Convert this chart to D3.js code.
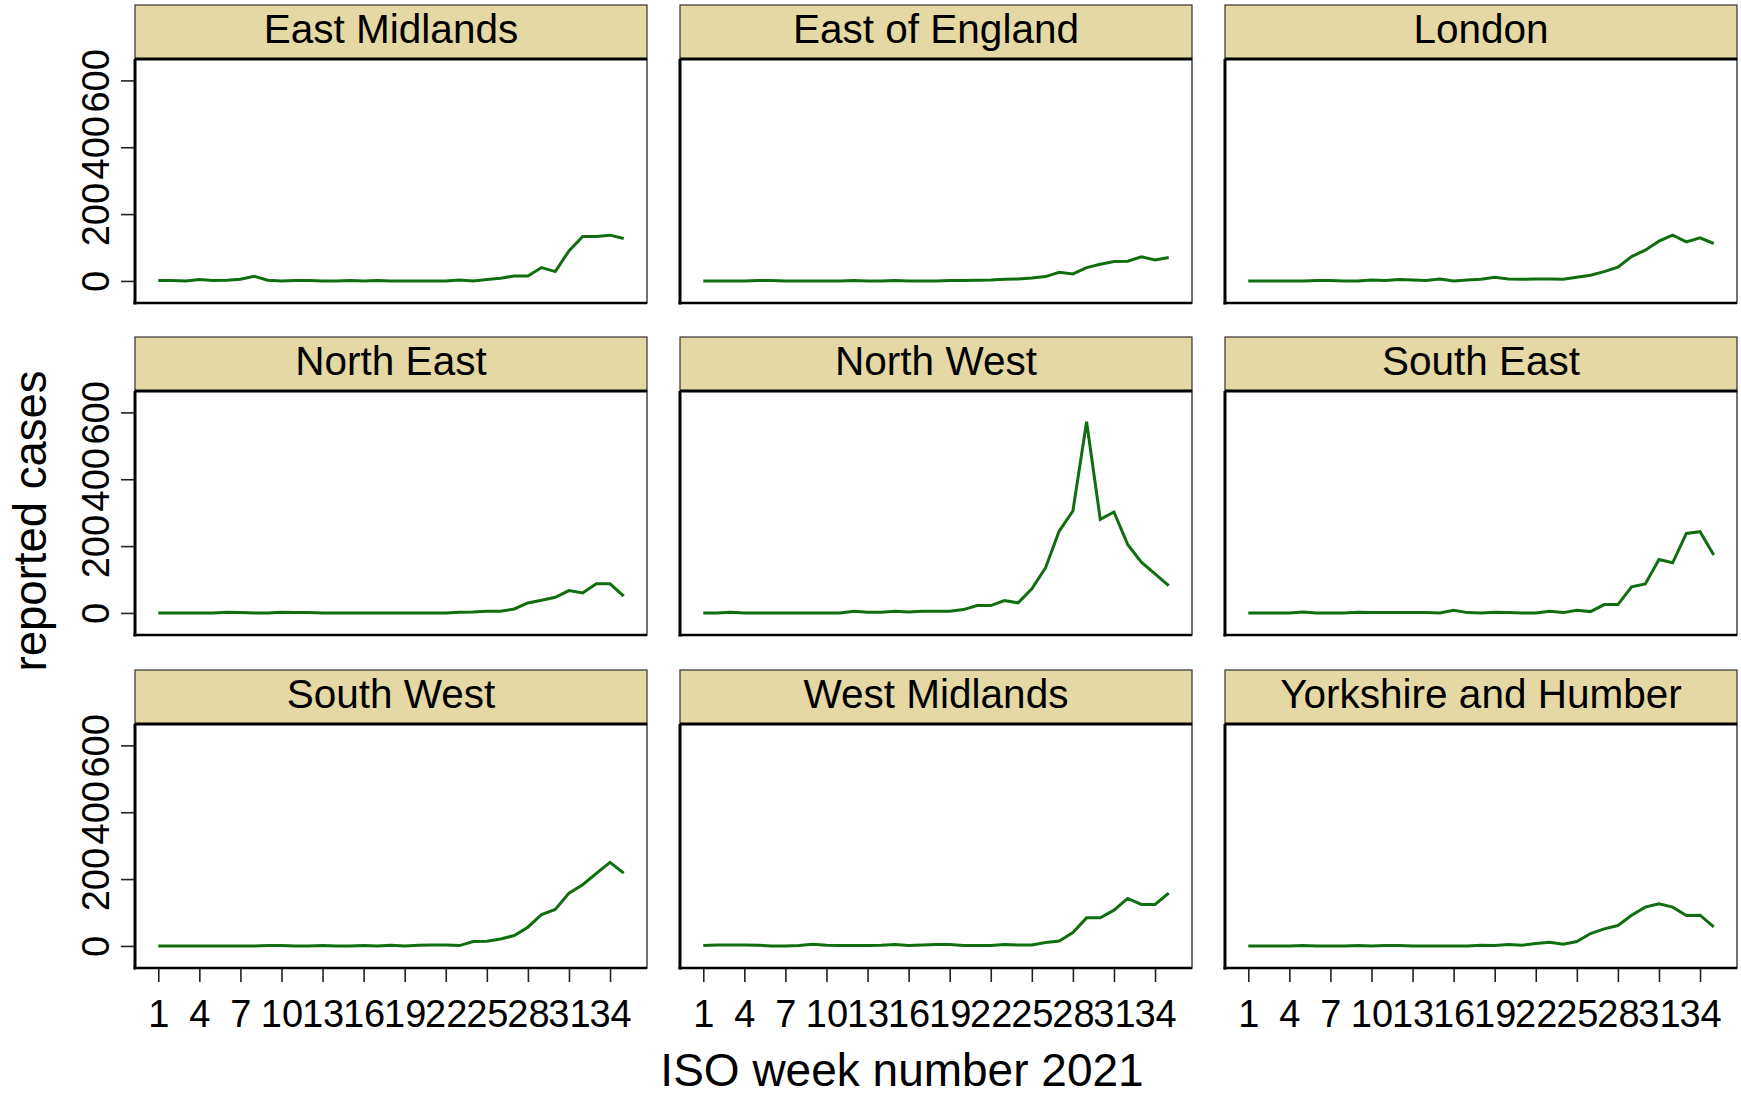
<!DOCTYPE html>
<html>
<head>
<meta charset="utf-8">
<script src="https://cdn.jsdelivr.net/npm/d3@7"></script>
<style>
  html, body { margin: 0; padding: 0; background: #fff; }
  svg { display: block; }
  text { font-family: "Liberation Sans", Arial, sans-serif; fill: #000; }
</style>
</head>
<body>
<svg id="chart" width="1741" height="1095"></svg>
<script>
// ---- data ----
const weeks = d3.range(1, 36);
const regions = ["East Midlands", "East of England", "London",
                 "North East", "North West", "South East",
                 "South West", "West Midlands", "Yorkshire and Humber"];
const eastMidlands   = [1,1,0,4,1,2,5,14,2,0,1,1,0,0,1,0,1,0,0,0,0,0,3,0,4,8,15,15,40,28,90,133,133,137,127];
const eastOfEngland  = [0,0,0,0,1,1,0,0,0,0,0,1,0,0,1,0,0,0,1,1,2,3,5,6,9,13,26,21,40,50,58,59,72,63,70];
const london         = [0,0,0,0,0,1,1,0,0,3,1,4,3,1,6,0,3,5,11,6,5,6,6,5,11,17,28,41,73,92,119,137,117,129,112];
const northEast      = [0,0,0,0,0,2,1,0,0,2,1,1,0,0,0,0,0,0,0,0,0,0,2,3,5,5,12,30,38,47,67,60,87,87,50];
const northWest      = [0,0,2,0,0,0,0,0,0,0,0,5,2,2,5,3,5,5,5,10,22,22,37,30,72,135,245,305,572,280,302,205,152,117,82];
const southEast      = [0,0,0,0,3,0,0,0,2,1,1,1,1,1,0,8,1,0,2,1,0,0,5,1,8,4,25,25,78,87,160,150,238,243,173];
const southWest      = [0,0,0,0,0,0,0,0,1,1,0,0,1,0,0,1,0,2,0,2,3,3,1,13,14,21,31,56,94,109,158,183,217,250,218];
const westMidlands   = [1,3,3,3,2,0,0,1,5,2,1,1,1,2,4,1,3,4,4,1,1,1,4,3,3,10,15,40,84,84,107,142,124,124,158];
const yorkshire      = [0,0,0,0,1,0,0,0,1,0,1,1,0,0,0,0,0,2,1,4,2,7,11,5,13,37,51,61,92,116,126,116,91,92,57];
const seriesValues = [eastMidlands, eastOfEngland, london, northEast, northWest,
                      southEast, southWest, westMidlands, yorkshire];
const xTickValues = [1,4,7,10,13,16,19,22,25,28,31,34];
const yTickValues = [0,200,400,600];
const xTitle = "ISO week number 2021";
const yTitle = "reported cases";

// ---- layout ----
const colLeft = [135, 680, 1225];
const rowTop = [59, 391, 724];
const pw = 512, ph = 244, stripH = 54;
const green = "#106E10";
const stripFill = "#E4D8A4";

const svg = d3.select("#chart");

const x = d3.scaleLinear().domain([-0.7, 36.7]).range([0, pw]);
const y = d3.scaleLinear().domain([-66, 664]).range([ph, 0]);

const line = d3.line().x((d, i) => x(weeks[i])).y(d => y(d));

regions.forEach((name, k) => {
  const r = Math.floor(k / 3), c = k % 3;
  const g = svg.append("g").attr("transform", `translate(${colLeft[c]},${rowTop[r]})`);

  // strip
  g.append("rect").attr("x", 0).attr("y", -stripH).attr("width", pw).attr("height", stripH)
    .attr("fill", stripFill).attr("stroke", "#333").attr("stroke-width", 1.2);
  g.append("text").attr("x", pw / 2).attr("y", -stripH + 38)
    .attr("text-anchor", "middle").attr("font-size", 40.5).text(name);

  // plot region
  g.append("rect").attr("x", 0).attr("y", 0).attr("width", pw).attr("height", ph)
    .attr("fill", "#fff").attr("stroke", "#444").attr("stroke-width", 1.5);

  // line
  g.append("path").datum(seriesValues[k]).attr("d", line)
    .attr("fill", "none").attr("stroke", green).attr("stroke-width", 3)
    .attr("stroke-linejoin", "miter");

  // strip bottom thick line
  g.append("line").attr("x1", 0).attr("x2", pw).attr("y1", 0).attr("y2", 0)
    .attr("stroke", "#000").attr("stroke-width", 3);

  // left axis
  const yAxis = d3.axisLeft(y).tickValues(yTickValues).tickSize(c === 0 ? 14 : 0)
    .tickFormat(c === 0 ? d3.format("d") : "");
  const ya = g.append("g").call(yAxis);
  ya.select(".domain").remove();
  ya.selectAll(".tick line").attr("stroke", "#222").attr("stroke-width", 1.6);
  ya.selectAll(".tick text")
    .attr("font-size", 38).attr("font-family", '"Liberation Sans", Arial, sans-serif')
    .attr("fill", "#000")
    .attr("x", null).attr("dy", null)
    .attr("text-anchor", "middle")
    .attr("transform", "translate(-26,0) rotate(-90)")
    .attr("y", 0);
  g.append("line").attr("x1", 0).attr("x2", 0).attr("y1", 0).attr("y2", ph + 1.5)
    .attr("stroke", "#000").attr("stroke-width", 3);

  // bottom axis
  const bottom = r === 2;
  const xAxis = d3.axisBottom(x).tickValues(xTickValues).tickSize(bottom ? 14 : 0)
    .tickFormat(bottom ? d3.format("d") : "");
  const xa = g.append("g").attr("transform", `translate(0,${ph})`).call(xAxis);
  xa.select(".domain").remove();
  xa.selectAll(".tick line").attr("stroke", "#222").attr("stroke-width", 1.6);
  xa.selectAll(".tick text")
    .attr("font-size", 38).attr("font-family", '"Liberation Sans", Arial, sans-serif')
    .attr("fill", "#000").attr("y", 59).attr("dy", null);
  g.append("line").attr("x1", -1.5).attr("x2", pw).attr("y1", ph).attr("y2", ph)
    .attr("stroke", "#000").attr("stroke-width", 2.6);
});

// axis titles
svg.append("text").attr("transform", "translate(46,521) rotate(-90)")
  .attr("text-anchor", "middle").attr("font-size", 45.5).text(yTitle);
svg.append("text").attr("x", 902).attr("y", 1086)
  .attr("text-anchor", "middle").attr("font-size", 46).text(xTitle);
</script>
</body>
</html>
